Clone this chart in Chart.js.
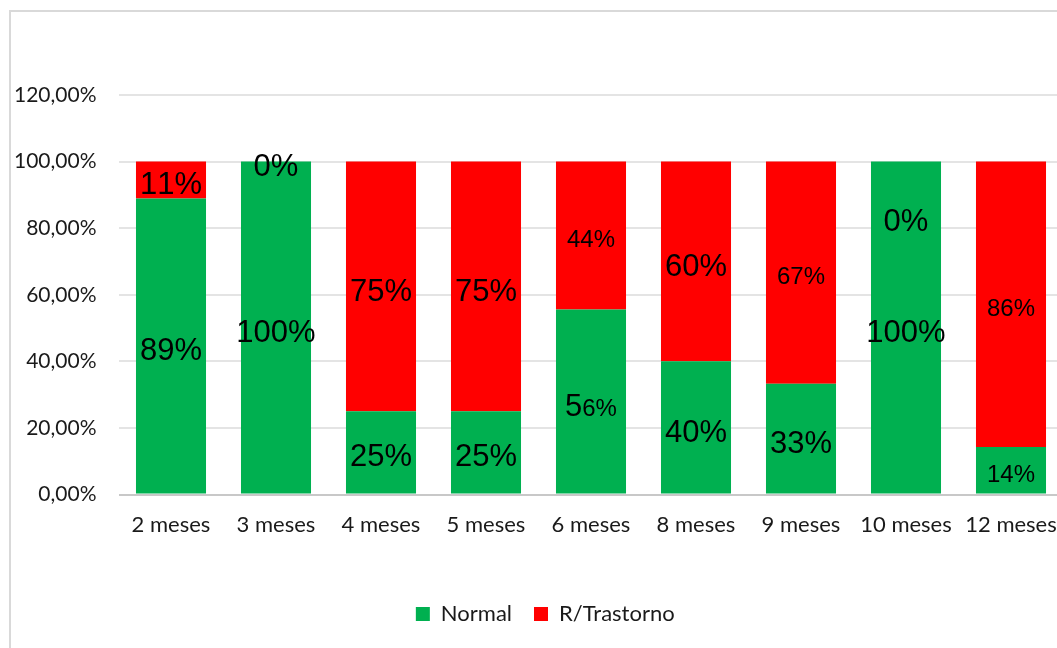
<!DOCTYPE html>
<html><head><meta charset="utf-8">
<script src="https://cdn.jsdelivr.net/npm/chart.js@4/dist/chart.umd.min.js"></script>
<style>
html,body{margin:0;padding:0;background:#fff;overflow:hidden;width:1057px;height:648px;}
#frame{position:absolute;left:9px;top:10px;width:1062px;height:660px;border:2px solid #d9d9d9;background:#fff;}
canvas{display:block;}
</style></head><body>
<div id="frame"><canvas id="c" width="1062" height="660"></canvas></div>
<script>
const categories = ['2 meses','3 meses','4 meses','5 meses','6 meses','8 meses','9 meses','10 meses','12 meses'];
const normalValues = [0.889, 1.0, 0.25, 0.25, 0.556, 0.40, 0.333, 1.0, 0.143];
const trastornoValues = [0.111, 0, 0.75, 0.75, 0.444, 0.60, 0.667, 0, 0.857];
const normalLabels = ['89%','100%','25%','25%','56%','40%','33%','100%','14%'];
const trastornoLabels = ['11%','0%','75%','75%','44%','60%','67%','0%','86%'];
const yTicks = [0, 0.2, 0.4, 0.6, 0.8, 1.0, 1.2];
const seriesNames = ['Normal', 'R/Trastorno'];

const labelPlugin = {
  id: 'barLabels',
  afterLayout(chart, args, opts) {
    const lg = chart.legend;
    if (lg) { lg.left += opts.legendShift; lg.right += opts.legendShift; }
  },
  afterDatasetsDraw(chart, args, opts) {
    const ctx = chart.ctx;
    chart.data.datasets.forEach((ds, di) => {
      const meta = chart.getDatasetMeta(di);
      meta.data.forEach((bar, i) => {
        const text = opts.labels[di][i];
        let y = (bar.y + bar.base) / 2;
        const ov = opts.overrides[di + '-' + i];
        if (ov !== undefined) y = chart.scales.y.getPixelForValue(ov);
        const s = opts.sizes[di][i];
        const chars = [...text];
        const sz = Array.isArray(s) ? s : chars.map(() => s);
        ctx.save();
        ctx.fillStyle = '#000';
        ctx.textBaseline = 'alphabetic';
        ctx.textAlign = 'left';
        let total = 0; const parts = [];
        chars.forEach((ch, k) => {
          ctx.font = sz[k] + 'px "Liberation Sans", Arial, sans-serif';
          const w = ctx.measureText(ch).width;
          parts.push([ch, sz[k], w]); total += w;
        });
        const maxS = Math.max(...sz);
        let x = bar.x - total / 2;
        const baseY = y + maxS * 0.716 / 2 + opts.dy;
        parts.forEach(([ch, sSize, w]) => {
          ctx.font = sSize + 'px "Liberation Sans", Arial, sans-serif';
          ctx.fillText(ch, x, baseY);
          x += w;
        });
        ctx.restore();
      });
    });
  }
};

new Chart(document.getElementById('c'), {
  type: 'bar',
  data: {
    labels: categories,
    datasets: [
      { label: seriesNames[0], data: normalValues, backgroundColor: '#00B050', borderWidth: 0 },
      { label: seriesNames[1], data: trastornoValues, backgroundColor: '#FF0000', borderWidth: 0 }
    ]
  },
  options: {
    responsive: false,
    devicePixelRatio: 1,
    animation: false,
    categoryPercentage: 1,
    barPercentage: 0.667,
    layout: { padding: { top: 83, left: 0, right: 9.5, bottom: 37 } },
    scales: {
      x: {
        stacked: true,
        grid: { display: false },
        border: { display: false },
        ticks: { font: { family: 'Lato', size: 22 }, color: '#1a1a1a', padding: 9, maxRotation: 0, autoSkip: false },
        afterFit: s => { s.height = 86.5; }
      },
      y: {
        stacked: true,
        min: 0, max: 1.2,
        afterBuildTicks: s => { s.ticks = yTicks.map(v => ({ value: v })); },
        afterFit: s => { s.width = 107.5; },
        border: { display: false },
        grid: {
          drawTicks: false,
          lineWidth: 2,
          color: c => (c.tick && c.tick.value === 0) ? '#c8c8c8' : '#e4e4e4'
        },
        ticks: {
          padding: 22,
          font: { family: 'Lato', size: 21 },
          color: '#1a1a1a',
          callback: v => (v * 100).toFixed(2).replace('.', ',') + '%'
        }
      }
    },
    plugins: {
      legend: {
        position: 'bottom',
        labels: { boxWidth: 14, boxHeight: 14, font: { family: 'Lato', size: 22 }, color: '#1a1a1a', padding: 22 }
      },
      tooltip: { enabled: false },
      barLabels: {
        labels: [normalLabels, trastornoLabels],
        sizes: [
          [31, 31, 31, 31, [31, 24, 24], 31, 31, 31, 24],
          [31, 31, 31, 31, 24, 31, 24, 31, 24]
        ],
        overrides: { '1-7': 0.835 },
        dy: 3,
        legendShift: 8
      }
    }
  },
  plugins: [labelPlugin]
});
</script>
</body></html>
